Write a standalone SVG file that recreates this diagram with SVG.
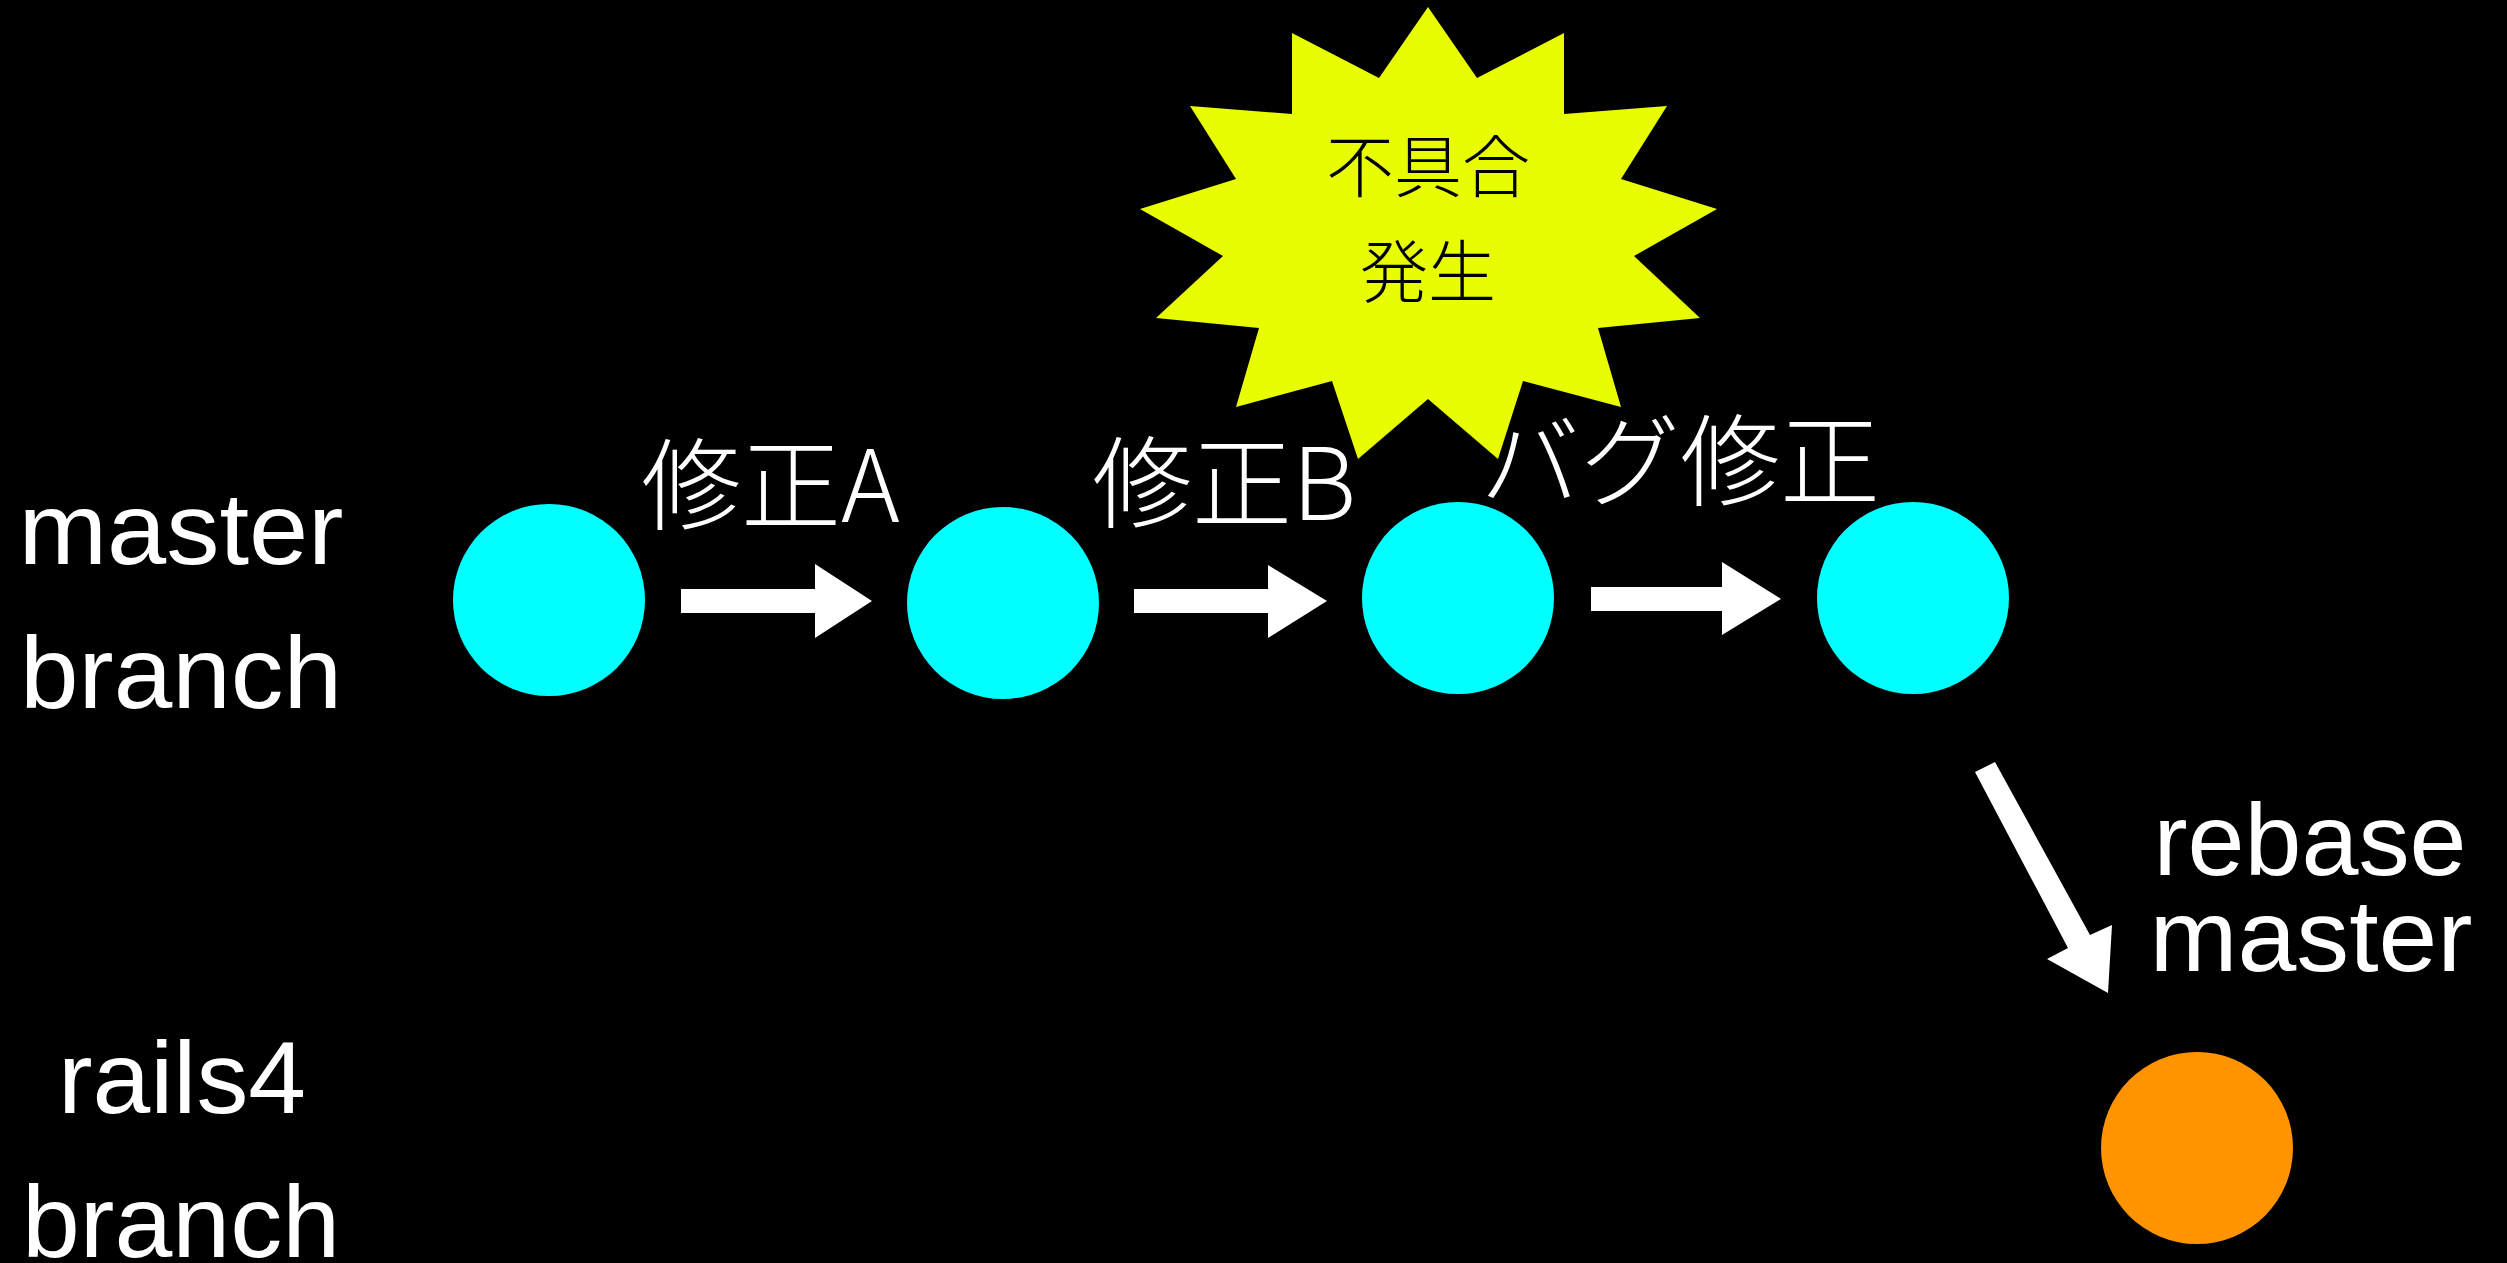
<svg xmlns="http://www.w3.org/2000/svg" width="2507" height="1263" viewBox="0 0 2507 1263">
  <style>
    .lbl { fill: #ffffff; font-family: "Liberation Sans", "Noto Sans CJK JP", sans-serif; font-size: 102px; text-anchor: middle; }
    .jp { fill: #ffffff; font-family: "Noto Sans CJK JP", "Liberation Sans", sans-serif; font-size: 100px; font-weight: 300; }
    .star-t { fill: #000000; font-family: "Noto Sans CJK JP", sans-serif; font-size: 68px; font-weight: 300; text-anchor: middle; }
    .commit { fill: #00ffff; }
    .rails { fill: #ff9400; }
    .arrow { fill: #ffffff; }
  </style>
  <rect x="0" y="0" width="2507" height="1263" fill="#000000"/>

  <g id="label-master-branch">
    <text class="lbl" x="181" y="564" textLength="325" lengthAdjust="spacingAndGlyphs">master</text>
    <text class="lbl" x="181" y="708" textLength="322" lengthAdjust="spacingAndGlyphs">branch</text>
  </g>
  <g id="label-rails4-branch">
    <text class="lbl" x="182" y="1113" textLength="248" lengthAdjust="spacingAndGlyphs">rails4</text>
    <text class="lbl" x="181" y="1257" textLength="318" lengthAdjust="spacingAndGlyphs">branch</text>
  </g>
  <g id="label-rebase-master">
    <text class="lbl" x="2310" y="875" textLength="313" lengthAdjust="spacingAndGlyphs">rebase</text>
    <text class="lbl" x="2311" y="971" textLength="323" lengthAdjust="spacingAndGlyphs">master</text>
  </g>

  <g id="burst">
    <polygon fill="#e8fd02" points="1428,7 1477,78 1564,33 1564,114 1667,106 1621,179 1717,209 1634,256 1700,318 1598,328 1621,407 1523,381 1498,459 1428,399 1358,459 1332,381 1236,407 1259,328 1156,318 1223,256 1140,209 1236,179 1190,106 1292,114 1292,33 1379,78"/>
    <text class="star-t" x="1428" y="192">不具合</text>
    <text class="star-t" x="1428" y="297">発生</text>
  </g>

  <g id="commit-1"><circle class="commit" cx="549" cy="600" r="96"/></g>
  <g id="commit-2"><circle class="commit" cx="1003" cy="603" r="96"/></g>
  <g id="commit-3"><circle class="commit" cx="1458" cy="598" r="96"/></g>
  <g id="commit-4"><circle class="commit" cx="1913" cy="598" r="96"/></g>
  <g id="commit-rails4"><circle class="rails" cx="2197" cy="1148" r="96"/></g>

  <g id="edge-labels">
    <text class="jp" x="641" y="522">修正A</text>
    <text class="jp" x="1092" y="520">修正B</text>
    <text class="jp" x="1480" y="498">バグ修正</text>
  </g>

  <g id="connectors">
    <polygon class="arrow" points="681,589 815,589 815,564 872,601 815,638 815,613 681,613"/>
    <polygon class="arrow" points="1134,589 1268,589 1268,565 1327,601 1268,638 1268,613 1134,613"/>
    <polygon class="arrow" points="1591,587 1722,587 1722,562 1781,599 1722,635 1722,611 1591,611"/>
    <polygon class="arrow" points="1975,772 1995,762 2090,935 2112,925 2108,993 2047,959 2068,948"/>
  </g>
</svg>
